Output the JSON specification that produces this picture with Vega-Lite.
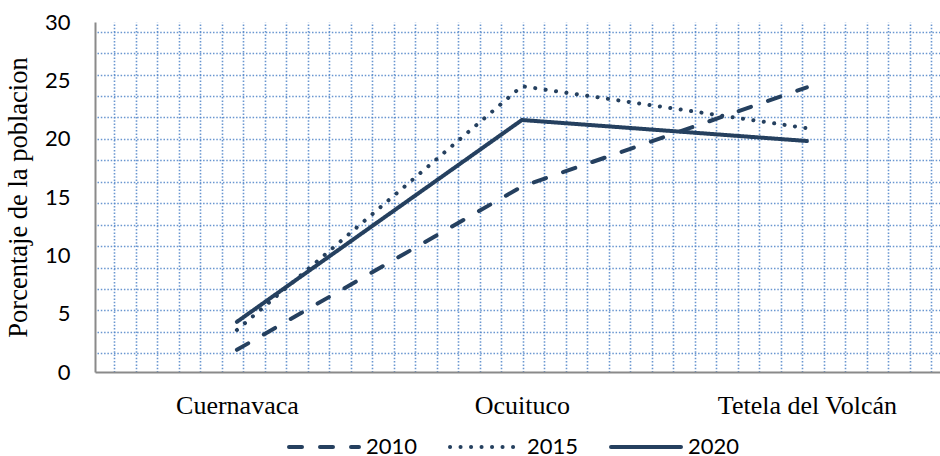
{
  "$schema": "https://vega.github.io/schema/vega-lite/v6.json",
  "width": 845,
  "height": 350,
  "autosize": {"type": "none"},
  "padding": {"left": 95, "top": 22, "right": 0, "bottom": 84},
  "background": "#ffffff",
  "config": {
    "view": {"stroke": null},
    "axis": {"labelColor": "#000000", "titleColor": "#000000"}
  },
  "datasets": {
    "poblacion": [
      {"municipio": "Cuernavaca", "anio": "2010", "valor": 1.9},
      {"municipio": "Ocuituco", "anio": "2010", "valor": 15.9},
      {"municipio": "Tetela del Volcán", "anio": "2010", "valor": 24.4},
      {"municipio": "Cuernavaca", "anio": "2015", "valor": 3.6},
      {"municipio": "Ocuituco", "anio": "2015", "valor": 24.5},
      {"municipio": "Tetela del Volcán", "anio": "2015", "valor": 20.9},
      {"municipio": "Cuernavaca", "anio": "2020", "valor": 4.3},
      {"municipio": "Ocuituco", "anio": "2020", "valor": 21.6},
      {"municipio": "Tetela del Volcán", "anio": "2020", "valor": 19.8}
    ],
    "cuadricula": [{"gx": 0, "gy": 0}]
  },
  "layer": [
    {
      "description": "Patterned background: a dotted square grid drawn from its own unit scales",
      "data": {"name": "cuadricula"},
      "mark": {"type": "point", "opacity": 0},
      "encoding": {
        "x": {
          "field": "gx",
          "type": "quantitative",
          "scale": {"domain": [-0.898, 38.4], "nice": false, "zero": false},
          "axis": {
            "orient": "top",
            "title": null,
            "labels": false,
            "ticks": false,
            "domain": false,
            "grid": true,
            "values": [0,1,2,3,4,5,6,7,8,9,10,11,12,13,14,15,16,17,18,19,20,21,22,23,24,25,26,27,28,29,30,31,32,33,34,35,36,37,38],
            "gridColor": "#4f84c8",
            "gridOpacity": 0.85,
            "gridWidth": 1.6,
            "gridDash": [1.5, 1.8]
          }
        },
        "y": {
          "field": "gy",
          "type": "quantitative",
          "scale": {"domain": [-0.872, 15.45], "nice": false, "zero": false},
          "axis": {
            "orient": "right",
            "title": null,
            "labels": false,
            "ticks": false,
            "domain": false,
            "grid": true,
            "values": [0,1,2,3,4,5,6,7,8,9,10,11,12,13,14,15],
            "gridColor": "#4f84c8",
            "gridOpacity": 0.85,
            "gridWidth": 1.6,
            "gridDash": [1.5, 1.8]
          }
        }
      }
    },
    {
      "description": "Share of population per municipality, one line per census year",
      "data": {"name": "poblacion"},
      "mark": {
        "type": "line",
        "color": "#25405f",
        "strokeCap": "round",
        "strokeJoin": "round"
      },
      "encoding": {
        "x": {
          "field": "municipio",
          "type": "nominal",
          "sort": null,
          "scale": {"type": "point", "padding": 0.4825, "align": 0.516},
          "axis": {
            "title": null,
            "labelAngle": 0,
            "ticks": false,
            "tickSize": 0,
            "labelFont": "Liberation Serif",
            "labelFontSize": 26,
            "labelBaseline": "alphabetic",
            "labelPadding": 41,
            "domainColor": "#8a8a8a",
            "domainWidth": 2,
            "grid": false
          }
        },
        "y": {
          "field": "valor",
          "type": "quantitative",
          "scale": {"domain": [0, 30], "nice": false},
          "axis": {
            "title": "Porcentaje de la poblacion",
            "titleFont": "Liberation Serif",
            "titleFontSize": 26.5,
            "titleFontWeight": "normal",
            "titleBaseline": "alphabetic",
            "titleX": -69,
            "titleY": 175,
            "values": [0, 5, 10, 15, 20, 25, 30],
            "ticks": false,
            "tickSize": 0,
            "labelFont": "Lato",
            "labelFontSize": 22,
            "labelPadding": 25,
            "domainColor": "#8a8a8a",
            "domainWidth": 2,
            "grid": false
          }
        },
        "strokeWidth": {
          "field": "anio",
          "type": "nominal",
          "scale": {"domain": ["2010", "2015", "2020"], "range": [4, 4, 2.8]},
          "legend": null
        },
        "strokeDash": {
          "field": "anio",
          "type": "nominal",
          "scale": {
            "domain": ["2010", "2015", "2020"],
            "range": [[13, 18], [0.1, 10.4], [1, 0]]
          },
          "legend": {
            "title": null,
            "orient": "none",
            "direction": "horizontal",
            "columns": 3,
            "legendX": 192,
            "legendY": 388,
            "padding": 0,
            "symbolType": "stroke",
            "symbolSize": 4900,
            "symbolStrokeWidth": 3.6,
            "symbolStrokeColor": "#25405f",
            "labelFont": "Lato",
            "labelFontSize": 22,
            "labelColor": "#000000",
            "labelOffset": 5,
            "columnPadding": 24,
            "encode": {
              "symbols": {"update": {"strokeCap": {"value": "round"}}}
            }
          }
        }
      }
    }
  ],
  "resolve": {
    "scale": {"x": "independent", "y": "independent"},
    "axis": {"x": "independent", "y": "independent"}
  }
}
